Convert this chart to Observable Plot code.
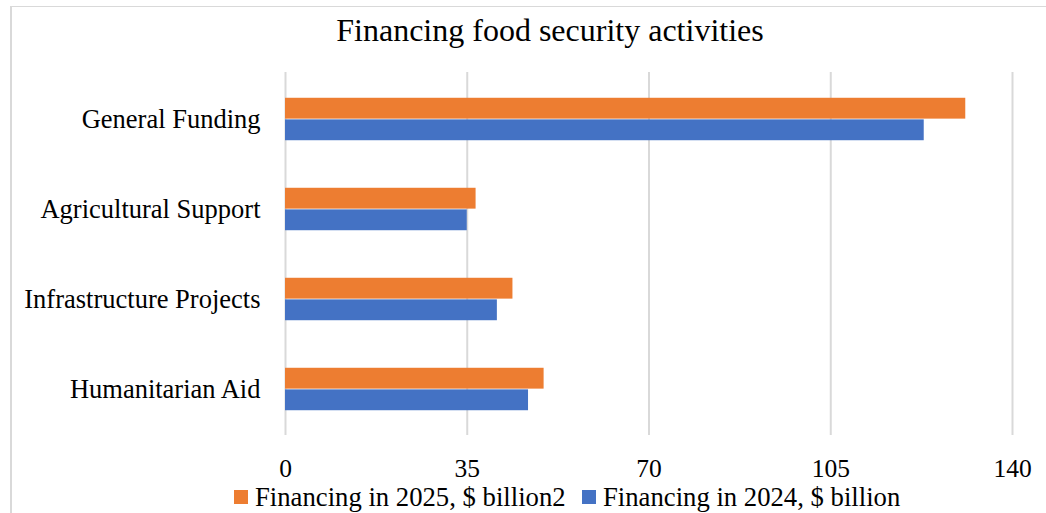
<!DOCTYPE html>
<html>
<head>
<meta charset="utf-8">
<script src="https://cdn.jsdelivr.net/npm/d3@7"></script>
<script src="https://cdn.jsdelivr.net/npm/@observablehq/plot@0.6"></script>
<style>
  html, body { margin: 0; padding: 0; width: 1046px; height: 513px; overflow: hidden; background: #fff; }
  #frame { position: absolute; left: 10px; top: 6px; width: 1100px; height: 600px; border-left: 2px solid #d9d9d9; border-top: 1.5px solid #d9d9d9; box-sizing: border-box; }
  #title { position: absolute; left: 0; width: 1100px; top: 12px; text-align: center; font-family: "Liberation Serif", serif; font-size: 32px; color: #000; line-height: 36px; }
  #chart { position: absolute; left: 0; top: 0; }
  #legend { position: absolute; top: 482px; left: 0; font-family: "Liberation Serif", serif; font-size: 26.7px; color: #000; white-space: nowrap; line-height: 30px; }
  .item { position: absolute; top: 0; display: flex; align-items: center; }
  .sw { width: 14px; height: 14px; margin-right: 7px; }
</style>
</head>
<body>
<div id="frame"></div>
<div id="title">Financing food security activities</div>
<div id="chart"></div>
<div id="legend"></div>
<script>
const categories = ["General Funding", "Agricultural Support", "Infrastructure Projects", "Humanitarian Aid"];
const values2025 = [131, 36.7, 43.8, 49.8];
const values2024 = [123, 35.0, 40.8, 46.8];
const seriesNames = ["Financing in 2025, $ billion2", "Financing in 2024, $ billion"];
const seriesColors = ["#ED7D31", "#4472C4"];
const xTicks = [0, 35, 70, 105, 140];

const d2025 = categories.map((c, i) => ({category: c, value: values2025[i]}));
const d2024 = categories.map((c, i) => ({category: c, value: values2024[i]}));

const W = 1046, H = 513;
const plotTop = 72, plotBottom = 435;
const band = (plotBottom - plotTop) / categories.length;
const barH = 21.6;
const outer = band / 2 - barH;

const chart = Plot.plot({
  width: W,
  height: H,
  marginLeft: 285,
  marginRight: W - 1012,
  marginTop: plotTop,
  marginBottom: H - plotBottom,
  style: { fontFamily: "Liberation Serif, serif", fontSize: "26px", color: "#000", background: "transparent" },
  x: { domain: [0, 140], ticks: xTicks, label: null },
  y: { domain: categories, padding: 0, label: null },
  marks: [
    Plot.ruleX(xTicks, { stroke: "#d9d9d9", strokeWidth: 2 }),
    Plot.barX(d2025, { x: "value", y: "category", fill: seriesColors[0], insetTop: outer, insetBottom: band / 2 }),
    Plot.barX(d2024, { x: "value", y: "category", fill: seriesColors[1], insetTop: band / 2, insetBottom: outer }),
    Plot.axisX({ ticks: xTicks, tickSize: 0, tickPadding: 23, label: null, fontSize: 25.5 }),
    Plot.axisY({ tickSize: 0, tickPadding: 25, label: null, fontSize: 26.5 })
  ]
});
document.getElementById("chart").appendChild(chart);

const legend = document.getElementById("legend");
const xs = [234, 582];
seriesNames.forEach((n, i) => {
  const it = document.createElement("div");
  it.className = "item";
  it.style.left = xs[i] + "px";
  const sw = document.createElement("span");
  sw.className = "sw";
  sw.style.background = seriesColors[i];
  const t = document.createElement("span");
  t.textContent = n;
  it.appendChild(sw); it.appendChild(t);
  legend.appendChild(it);
});
</script>
</body>
</html>
